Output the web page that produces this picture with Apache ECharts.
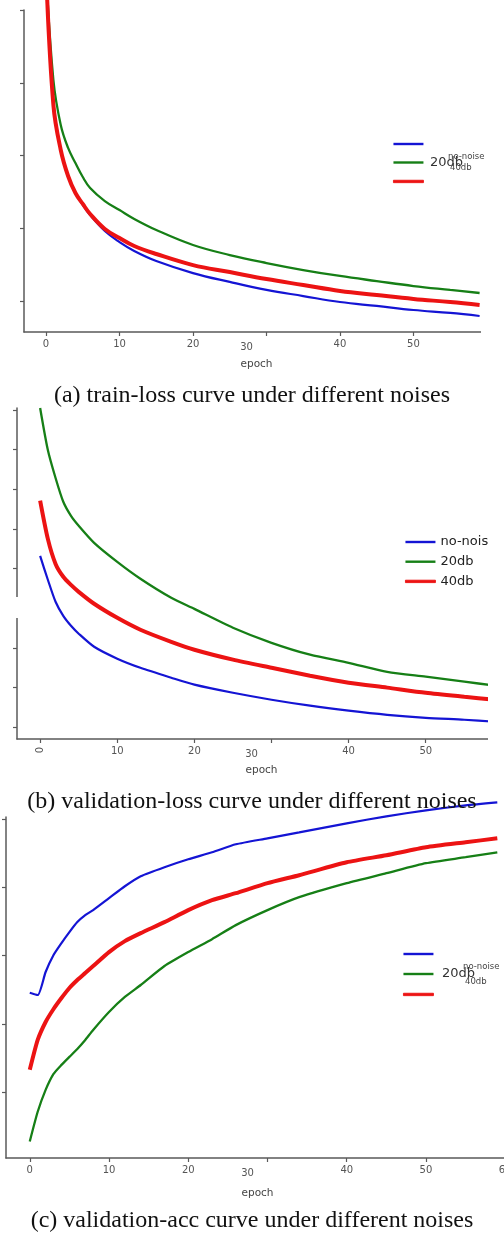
<!DOCTYPE html>
<html>
<head>
<meta charset="utf-8">
<script src="https://cdn.jsdelivr.net/npm/echarts@6/dist/echarts.min.js"></script>
<style>
html,body{margin:0;padding:0;background:#fff;}
#chart{width:504px;height:1240px;}
</style>
</head>
<body>
<div id="chart"></div>
<script>
// ---- data ----
const seriesNames = ['no-noise', '20db', '40db'];
const xTicks = [0, 10, 20, 30, 40, 50, 60];

// (a) train loss
const epochsA = [0,1,2,3,4,5,6,8,10,12,15,20,25,30,35,40,45,50,55,59];
const trainNoNoise = [2.775,1.847,1.538,1.359,1.242,1.160,1.091,0.981,0.905,0.844,0.775,0.692,0.631,0.576,0.534,0.493,0.466,0.438,0.418,0.397];
const train20db    = [2.775,2.019,1.710,1.552,1.448,1.352,1.277,1.187,1.125,1.064,0.988,0.885,0.816,0.761,0.713,0.672,0.637,0.603,0.576,0.555];
const train40db    = [2.775,1.847,1.538,1.359,1.242,1.167,1.098,0.995,0.933,0.878,0.823,0.747,0.699,0.651,0.610,0.569,0.541,0.514,0.493,0.473];
const yTicksA = [0.5, 1.0, 1.5, 2.0, 2.5];

// (b) validation loss
const epochsB = [0,1,2,3,4,5,7,10,13,17,20,25,30,35,40,45,50,55,59];
const valLossNoNoise = [1.264,1.144,1.033,0.962,0.912,0.872,0.806,0.746,0.700,0.650,0.615,0.574,0.539,0.509,0.484,0.463,0.448,0.438,0.428];
const valLoss20db    = [2.010,1.798,1.657,1.537,1.466,1.416,1.330,1.234,1.149,1.053,0.997,0.902,0.826,0.766,0.725,0.680,0.655,0.630,0.610];
const valLoss40db    = [1.543,1.350,1.224,1.159,1.118,1.083,1.023,0.952,0.892,0.831,0.791,0.741,0.700,0.660,0.625,0.600,0.574,0.554,0.539];
const yTicksB = [0.4, 0.6, 0.8, 1.0, 1.2, 1.4, 1.6, 1.8, 2.0];

// (c) validation accuracy
const epochsC = [0,1,2,3,4,5,6,7,8,10,12,14,17,20,23,26,30,34,40,45,50,55,59];
const valAccNoNoise = [0.6456,0.6422,0.676,0.701,0.7185,0.7346,0.7493,0.7595,0.7669,0.7845,0.802,0.8167,0.830,0.8416,0.8519,0.8636,0.8724,0.8812,0.8944,0.9047,0.9135,0.9208,0.9252];
const valAcc20db    = [0.4271,0.4707,0.5029,0.5264,0.5396,0.5513,0.5630,0.5762,0.5909,0.6173,0.6393,0.6569,0.6848,0.7053,0.7243,0.7449,0.7669,0.7859,0.8065,0.8211,0.8358,0.8446,0.8519];
const valAcc40db    = [0.5323,0.5762,0.6026,0.6217,0.6378,0.6525,0.6642,0.6745,0.6848,0.7053,0.7214,0.7331,0.7493,0.7669,0.7815,0.7918,0.8065,0.8182,0.8372,0.8475,0.8592,0.8666,0.8724];
const yTicksC = [0.5, 0.6, 0.7, 0.8, 0.9];

const titles = [
  '(a) train-loss curve under different noises',
  '(b) validation-loss curve under different noises',
  '(c) validation-acc curve under different noises'
];
const xName = 'epoch';

// ---- styling ----
const COLORS = {'no-noise': '#1414d4', '20db': '#167f16', '40db': '#ec1313'};
const WIDTHS = {'no-noise': 2.2, '20db': 2.3, '40db': 4};
const AX = '#5a5a5a';
const LBL = '#555';
const FONT = '"DejaVu Sans", sans-serif';

function zip(xs, ys) { return xs.map((x, i) => [x, ys[i]]); }

function xAxisFor(grid, nameGap, hideZero) {
  return {
    type: 'value', gridIndex: grid, position: 'bottom', min: -3, max: 63,
    splitLine: {show: false},
    axisLine: {show: true, onZero: false, lineStyle: {color: AX, width: 1.5}},
    axisTick: {show: true, customValues: xTicks, length: 4, inside: false, lineStyle: {color: AX, width: 1.2}},
    axisLabel: {
      show: true, customValues: hideZero ? xTicks.filter(v => v !== 0) : xTicks,
      margin: 7, fontSize: 10, color: LBL, fontFamily: FONT, hideOverlap: false,
      formatter: v => (v === 30 ? '{s|30}' : String(v)),
      rich: {s: {fontSize: 10, color: LBL, fontFamily: FONT, padding: [3, 40, 0, 0]}}
    },
    name: xName, nameLocation: 'middle', nameGap: nameGap,
    nameTextStyle: {fontSize: 10.5, color: '#444', fontFamily: FONT, padding: [0, 20, 0, 0]}
  };
}
function yAxisFor(grid, min, max, ticks) {
  return {
    type: 'value', gridIndex: grid, position: 'left', min: min, max: max,
    splitLine: {show: false},
    axisLine: {show: true, onZero: false, lineStyle: {color: AX, width: 1.5}},
    axisTick: {show: true, customValues: ticks, length: 4, inside: false, lineStyle: {color: AX, width: 1.2}},
    axisLabel: {show: false}
  };
}
function lineSeries(name, xi, yi, xs, ys, smooth) {
  return {
    type: 'line', name: name, xAxisIndex: xi, yAxisIndex: yi,
    data: zip(xs, ys), symbol: 'none', smooth: smooth, clip: false,
    color: COLORS[name],
    lineStyle: {color: COLORS[name], width: WIDTHS[name]},
    emphasis: {disabled: true}, animation: false, z: name === '40db' ? 3 : 2
  };
}
function legendData() {
  return seriesNames.map(n => n === '40db'
    ? {name: n, icon: 'rect', itemStyle: {color: COLORS[n], borderColor: COLORS[n], borderWidth: 0.9}}
    : {name: n, icon: 'rect', itemStyle: {color: COLORS[n], borderWidth: 0}});
}

const chart = echarts.init(document.getElementById('chart'), null, {renderer: 'canvas'});

const option = {
  backgroundColor: '#fff',
  animation: false,
  title: titles.map((t, i) => ({
    text: t, left: 'center', top: [384, 790, 1209][i], padding: 0,
    textStyle: {fontFamily: '"Liberation Serif", "Times New Roman", serif', fontSize: 24, fontWeight: 'normal', color: '#111'}
  })),
  grid: [
    {left: 24, top: 10, width: 485, height: 322, outerBoundsMode: 'none', containLabel: false},
    {left: 17, top: 408, width: 509, height: 331, outerBoundsMode: 'none', containLabel: false},
    {left: 6, top: 817, width: 523, height: 341, outerBoundsMode: 'none', containLabel: false}
  ],
  xAxis: [
    xAxisFor(0, 27, false),
    xAxisFor(1, 26, true),
    xAxisFor(2, 30, false),
    // rotated "0" label of panel (b)
    {
      type: 'value', gridIndex: 1, position: 'bottom', min: -3, max: 63,
      splitLine: {show: false}, axisLine: {show: false}, axisTick: {show: false},
      axisLabel: {show: true, customValues: [0], rotate: 90, margin: 8, fontSize: 10, color: LBL, fontFamily: FONT}
    }
  ],
  yAxis: [
    yAxisFor(0, 0.287, 2.5, yTicksA),
    yAxisFor(1, 0.341, 2.010, yTicksB),
    yAxisFor(2, 0.4028, 0.9037, yTicksC)
  ],
  legend: [
    {
      data: legendData(), orient: 'vertical', left: 393, top: 142.8, padding: 0,
      itemWidth: 30, itemHeight: 2.4, itemGap: 16.1, formatter: () => '',
      selectedMode: false, textStyle: {fontSize: 1, lineHeight: 1}
    },
    {
      data: legendData(), orient: 'vertical', left: 405, top: 535, padding: 0,
      itemWidth: 30, itemHeight: 2.4, itemGap: 5.7,
      selectedMode: false,
      textStyle: {fontSize: 13, color: '#222', fontFamily: FONT, lineHeight: 14}
    },
    {
      data: legendData(), orient: 'vertical', left: 403, top: 952.8, padding: 0,
      itemWidth: 30, itemHeight: 2.4, itemGap: 17.6, formatter: () => '',
      selectedMode: false, textStyle: {fontSize: 1, lineHeight: 1}
    }
  ],
  series: [
    lineSeries('no-noise', 0, 0, epochsA, trainNoNoise, 0.4),
    lineSeries('20db', 0, 0, epochsA, train20db, 0.4),
    lineSeries('40db', 0, 0, epochsA, train40db, 0.4),
    lineSeries('no-noise', 1, 1, epochsB, valLossNoNoise, 0.25),
    lineSeries('20db', 1, 1, epochsB, valLoss20db, 0.25),
    lineSeries('40db', 1, 1, epochsB, valLoss40db, 0.25),
    lineSeries('no-noise', 2, 2, epochsC, valAccNoNoise, 0.2),
    lineSeries('20db', 2, 2, epochsC, valAcc20db, 0.2),
    lineSeries('40db', 2, 2, epochsC, valAcc40db, 0.2)
  ],
  graphic: [
    // cropped right edges of panels (a) and (b)
    {type: 'rect', z: 100, shape: {x: 481, y: 0, width: 30, height: 372}, style: {fill: '#fff'}},
    {type: 'rect', z: 100, shape: {x: 488, y: 402, width: 30, height: 382}, style: {fill: '#fff'}},
    // gap in the y axis of panel (b)
    {type: 'rect', z: 100, shape: {x: 8, y: 597, width: 14, height: 21}, style: {fill: '#fff'}},
    // overlapping legend texts of (a)
    {type: 'text', z: 101, x: 430, y: 163, style: {text: '20db', font: '13px "DejaVu Sans"', fill: '#333', verticalAlign: 'middle'}},
    {type: 'text', z: 102, x: 448, y: 157, style: {text: 'no-noise', font: '8.5px "DejaVu Sans"', fill: '#444', verticalAlign: 'middle'}},
    {type: 'text', z: 102, x: 450, y: 168, style: {text: '40db', font: '8.5px "DejaVu Sans"', fill: '#444', verticalAlign: 'middle'}},
    // overlapping legend texts of (c)
    {type: 'text', z: 101, x: 442, y: 974, style: {text: '20db', font: '13px "DejaVu Sans"', fill: '#333', verticalAlign: 'middle'}},
    {type: 'text', z: 102, x: 463, y: 967, style: {text: 'no-noise', font: '8.5px "DejaVu Sans"', fill: '#444', verticalAlign: 'middle'}},
    {type: 'text', z: 102, x: 465, y: 982, style: {text: '40db', font: '8.5px "DejaVu Sans"', fill: '#444', verticalAlign: 'middle'}}
  ]
};
chart.setOption(option);
</script>
</body>
</html>
